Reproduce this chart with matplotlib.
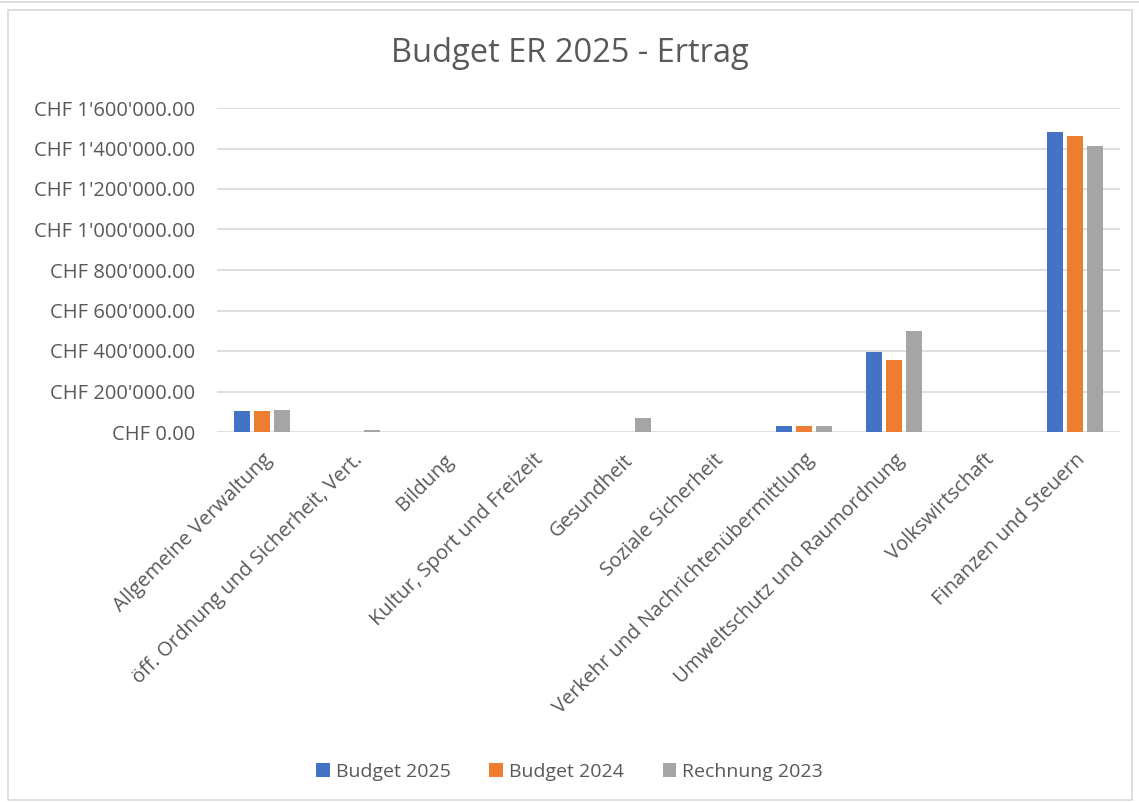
import matplotlib.pyplot as plt
import matplotlib.patches as patches
from matplotlib.ticker import FuncFormatter
import numpy as np

categories = ["Allgemeine Verwaltung", "öff. Ordnung und Sicherheit, Vert.", "Bildung",
              "Kultur, Sport und Freizeit", "Gesundheit", "Soziale Sicherheit",
              "Verkehr und Nachrichtenübermittlung", "Umweltschutz und Raumordnung",
              "Volkswirtschaft", "Finanzen und Steuern"]
budget_2025 = [105000, 0, 0, 0, 0, 0, 32000, 394000, 0, 1483000]
budget_2024 = [105000, 0, 0, 0, 0, 0, 30000, 355000, 0, 1460000]
rechnung_2023 = [107000, 8000, 0, 0, 71000, 0, 30000, 497000, 0, 1413000]
series_names = ["Budget 2025", "Budget 2024", "Rechnung 2023"]
colors = ["#4472C4", "#ED7D31", "#A5A5A5"]

plt.rcParams['font.family'] = ['Open Sans', 'DejaVu Sans']
txt = "#595959"

fig = plt.figure(figsize=(11.39, 8.02), dpi=100)
# outer chart frame
fig.patches.append(patches.Rectangle((8/1139, 2/802), 1124/1139, 790/802, transform=fig.transFigure,
                                     fill=False, edgecolor="#d9d9d9", linewidth=1.2))
fig.lines.append(plt.Line2D([0, 1], [1 - 2/802, 1 - 2/802], transform=fig.transFigure,
                            color="#d9d9d9", linewidth=1.2))
ax = fig.add_axes([217/1139, 1 - 432/802, 903/1139, 324/802])

x = np.arange(len(categories))
w = 0.177
step = 0.221
for i, (vals, name, c) in enumerate(zip([budget_2025, budget_2024, rechnung_2023], series_names, colors)):
    ax.bar(x + (i - 1) * step, vals, width=w, color=c, label=name, zorder=3)

ax.set_xlim(-0.5, len(categories) - 0.5)
ax.set_ylim(0, 1600000)
ax.set_yticks(np.arange(0, 1600001, 200000))

def chf(v, pos):
    s = f"{v:,.2f}".replace(",", "'")
    return "CHF " + s

ax.yaxis.set_major_formatter(FuncFormatter(chf))
ax.grid(axis="y", color="#d9d9d9", linewidth=1.2, zorder=0)
for s in ax.spines.values():
    s.set_visible(False)
ax.tick_params(axis="both", length=0, labelsize=14.5, labelcolor=txt)
ax.tick_params(axis="y", pad=16)
ax.set_xticks(x)
ax.set_xticklabels(categories, rotation=45, ha="right", rotation_mode="anchor")
ax.tick_params(axis="x", pad=13)

fig.text(0.5, 1 - 53/802, "Budget ER 2025 - Ertrag", ha="center", va="center", fontsize=23.5, color=txt)
fig.legend(loc="center", bbox_to_anchor=(0.5, 1 - 772/802), ncol=3, frameon=False,
           fontsize=14, labelcolor=txt, handlelength=0.7, handleheight=0.7, handletextpad=0.3,
           columnspacing=2.0)

fig.savefig("out.png", dpi=100)
